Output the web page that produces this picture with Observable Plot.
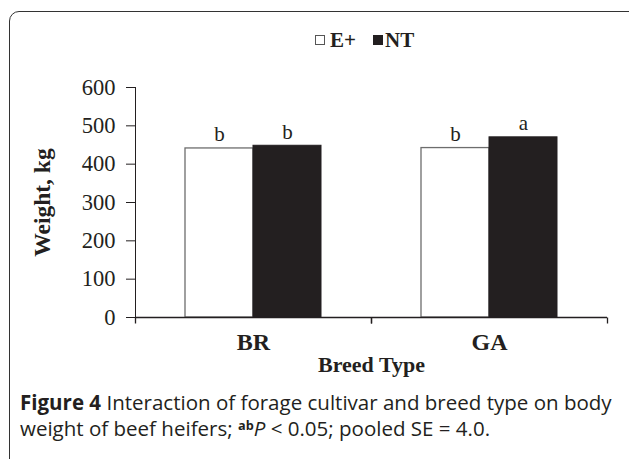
<!DOCTYPE html>
<html>
<head>
<meta charset="utf-8">
<script src="https://cdn.jsdelivr.net/npm/d3@7"></script>
<script src="https://cdn.jsdelivr.net/npm/@observablehq/plot@0.6"></script>
<style>
html, body { margin: 0; padding: 0; background: #fff; }
#wrap { position: relative; width: 629px; height: 459px; overflow: hidden; background: #fff; }
#frame { position: absolute; left: 9px; top: 11px; width: 660px; height: 480px; border: 1.8px solid #333; border-radius: 10px; box-sizing: border-box; }
#legend { position: absolute; left: 315px; top: 28px; height: 24px; display: flex; align-items: center; font-family: "Liberation Serif", serif; font-weight: bold; font-size: 21px; color: #231f20; }
#legend .sq { display: inline-block; width: 10px; height: 10px; box-sizing: border-box; }
#legend .open { border: 1px solid #555; background: #fff; margin-right: 5px; }
#legend .solid { background: #231f20; margin-left: 17px; margin-right: 2px; }
#chart { position: absolute; left: 0; top: 60px; }
#caption { position: absolute; left: 20px; top: 389px; font-family: "Open Sans", sans-serif; font-size: 19px; line-height: 26px; color: #231f20; white-space: nowrap; }
#caption b { font-weight: 700; }
#caption .sup { position: relative; top: -0.45em; font-size: 0.62em; font-weight: 700; line-height: 0; }
#chart g[aria-label="y-axis label"] text { font-weight: bold; font-size: 23.5px; }
#chart g[aria-label="fx-axis label"] text { font-weight: bold; }
#chart g[aria-label="fx-axis tick label"] text { font-weight: bold; font-size: 24px; }
#chart g[aria-label="y-axis tick label"] text { font-size: 22.5px; }
</style>
</head>
<body>
<div id="wrap">
  <div id="frame"></div>
  <div id="legend"><span class="sq open"></span><span>E+</span><span class="sq solid"></span><span>NT</span></div>
  <div id="chart"></div>
  <div id="caption"><span id="line1"><b>Figure 4</b> Interaction of forage cultivar and breed type on body</span><br>weight of beef heifers; <span class="sup">ab</span><i>P</i> &lt; 0.05; pooled SE = 4.0.</div>
</div>
<script>
const breeds = ["BR", "GA"];
const cultivars = ["E+", "NT"];
const weightEplus = [441, 442];
const weightNT = [448, 470];
const lettersEplus = ["b", "b"];
const lettersNT = ["b", "a"];
const yTicks = [0, 100, 200, 300, 400, 500, 600];

const rows = breeds.flatMap((b, i) => [
  {breed: b, cultivar: cultivars[0], weight: weightEplus[i], letter: lettersEplus[i]},
  {breed: b, cultivar: cultivars[1], weight: weightNT[i], letter: lettersNT[i]}
]);

const tickDown = {draw(ctx) { ctx.moveTo(0, 0); ctx.lineTo(0, 6); }};
const ink = "#231f20";

const chart = Plot.plot({
  width: 629,
  height: 320,
  marginLeft: 135,
  marginRight: 22,
  marginTop: 27,
  marginBottom: 63,
  style: {fontFamily: '"Liberation Serif", serif', fontSize: "22px", color: ink, background: "transparent", overflow: "visible"},
  fx: {domain: breeds, padding: 0, axis: "bottom", label: "Breed Type", labelAnchor: "center", labelOffset: 54, labelArrow: "none", tickSize: 0, tickPadding: 15},
  x: {domain: cultivars, paddingInner: 0, paddingOuter: 0.735, axis: null},
  y: {domain: [0, 600], ticks: yTicks, tickSize: 9, tickPadding: 11, line: true, label: "Weight, kg", labelAnchor: "center", labelOffset: 102, labelArrow: "none"},
  marks: [
    Plot.barY(rows, {filter: d => d.cultivar === cultivars[0], fx: "breed", x: "cultivar", y: "weight", fill: "#ffffff", stroke: "#6d6d6d", strokeWidth: 1.3}),
    Plot.barY(rows, {filter: d => d.cultivar === cultivars[1], fx: "breed", x: "cultivar", y: "weight", fill: ink, stroke: ink, strokeWidth: 1}),
    Plot.ruleY([0], {stroke: ink, strokeWidth: 1.3}),
    Plot.dot([0], {frameAnchor: "bottom-left", symbol: tickDown, stroke: ink, strokeWidth: 1.3}),
    Plot.dot([0], {frameAnchor: "bottom-right", symbol: tickDown, stroke: ink, strokeWidth: 1.3}),
    Plot.text(rows, {fx: "breed", x: "cultivar", y: "weight", text: "letter", lineAnchor: "bottom", dy: -7, fontSize: 21, fill: ink})
  ]
});
document.getElementById("chart").appendChild(chart);

// fit caption so that its first line spans the same width as in the figure
const cap = document.getElementById("caption");
const line1 = document.getElementById("line1");
const targetWidth = 592;
const w = line1.getBoundingClientRect().width;
if (w > 0) cap.style.fontSize = (19 * targetWidth / w).toFixed(2) + "px";
</script>
</body>
</html>
